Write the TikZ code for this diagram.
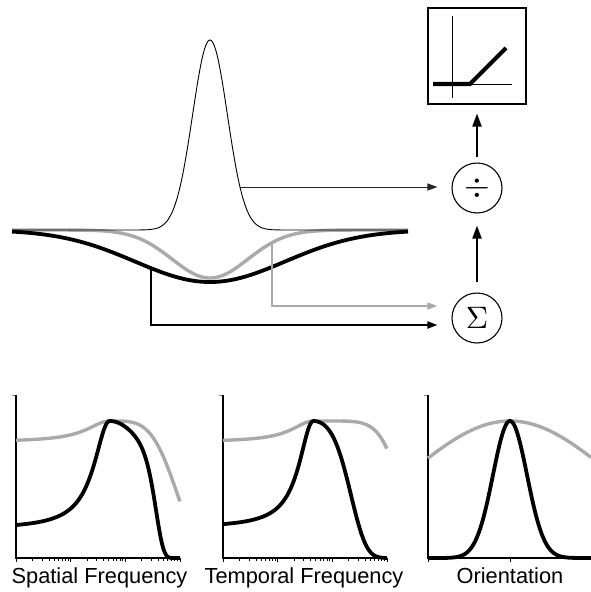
\documentclass[tikz,border=0pt]{standalone}
\usepackage{fontspec}
\usepackage{graphicx}
\setmainfont{Liberation Sans}
\usetikzlibrary{arrows.meta,calc}
\definecolor{cgray}{RGB}{170,170,170}
\begin{document}
\begin{tikzpicture}[x=1pt,y=-1pt,
  thickblack/.style={line width=3.8pt,black,line join=round},
  thickgray/.style={line width=3.4pt,cgray,line join=round},
  thincurve/.style={line width=0.9pt,black},
  opnode/.style={draw,circle,line width=1.1pt,minimum size=50pt,inner sep=0pt},
  conn/.style={line width=1pt,-{Triangle[length=10pt,width=7pt]}},
  vconn/.style={line width=2pt,-{Triangle[length=13pt,width=9pt]}},
  axisline/.style={line width=1.6pt,black},
  lbl/.style={font=\fontsize{21.8}{22}\selectfont,inner sep=0pt,anchor=base}]
\useasboundingbox (0,0) rectangle (591,592);

% ---- top curves
\draw[thickgray] plot[domain=12:408,samples=200,smooth] (\x,{230+48*exp(-min(((\x-210)/38)^2/2,40))});
\draw[thickblack] plot[domain=12:408,samples=200,smooth] (\x,{230+52*exp(-min(((\x-210)/75)^2/2,40))});
\draw[thincurve] plot[domain=12:408,samples=300,smooth] (\x,{230-190*exp(-min(((\x-210)/17.4)^2/2,40))});

\coordinate (pk) at (240,187);
\coordinate (gk) at (272,243);
\coordinate (bk) at (151,268);

% ---- operators
\node[opnode] (div) at (477,188) {\scalebox{3.3}{$\div$}};
\node[opnode] (sum) at (477,318) {\scalebox{3.1}{$\Sigma$}};
\node[draw,line width=1.1pt,minimum width=98pt,minimum height=96pt,inner sep=0pt] (box) at (477,56) {};

% box content
\draw[line width=0.9pt] (452,16) -- (452,98);
\draw[line width=0.9pt] (433,84) -- (512,84);
\draw[line width=4.2pt] (433,84) -- (470,84) -- (506,48);

% ---- connectors
\draw[conn,black!85] (pk) -- (pk -| div.west) [shorten >=14pt];
\draw[conn,cgray,line width=1.6pt] (gk) |- ($(sum.west)+(-14,-12)$);
\draw[conn,line width=2pt] (bk) |- ($(sum.west)+(-14,7)$);
\draw[vconn,shorten <=10pt,shorten >=12pt] (sum.north) -- (div.south);
\draw[vconn,shorten <=5pt,shorten >=9pt] (div.north) -- (box.south);

% ---- bottom panel 1 (x0=16)
\draw[line width=1pt,cgray!80!black] (12,395) -- (16,395);
\draw[axisline] (16,395) -- (16,558) -- (180,558);
\foreach \i in {0,1,2,3} \draw[line width=1pt] ({16+164/3*\i},558) -- ++(0,4);
\foreach \i in {0,1,2} \foreach \k in {2,...,9} \draw[line width=0.8pt] ({16+164/3*(\i+log10(\k))},558) -- ++(0,2.5);
\draw[thickgray] plot[domain=0:0.57,samples=60,smooth] ({16+164*\x},{558-137*(0.847+0.153/(1+((\x-0.57)/0.17)^2))})
  -- plot[domain=0.57:1,samples=60,smooth] ({16+164*\x},{558-137*exp(-min((abs(\x-0.57)/0.443)^4,40))});
\draw[thickblack] plot[domain=0:0.57,samples=60,smooth] ({16+164*\x},{558-137*(0.21+0.79/(1+((\x-0.57)/0.115)^2))})
  -- plot[domain=0.57:1,samples=80,smooth] ({16+164*\x},{558-137*exp(-min((abs(\x-0.57)/0.463)^2+(abs(\x-0.57)/0.298)^8,40))});
\node[lbl] (l1) at (99.5,583) {Spatial Frequency};

% ---- bottom panel 2 (x0=223)
\draw[line width=1pt,cgray!80!black] (219,395) -- (223,395);
\draw[axisline] (223,395) -- (223,558) -- (387,558);
\foreach \i in {0,1,2,3} \draw[line width=1pt] ({223+164/3*\i},558) -- ++(0,4);
\foreach \i in {0,1,2} \foreach \k in {2,...,9} \draw[line width=0.8pt] ({223+164/3*(\i+log10(\k))},558) -- ++(0,2.5);
\draw[thickgray] plot[domain=0:0.55,samples=60,smooth] ({223+164*\x},{558-137*(0.847+0.153/(1+((\x-0.55)/0.16)^2))})
  -- plot[domain=0.55:1,samples=60,smooth] ({223+164*\x},{558-137*exp(-min((abs(\x-0.55)/0.565)^6.5,40))});
\draw[thickblack] plot[domain=0:0.55,samples=60,smooth] ({223+164*\x},{558-137*(0.22+0.78/(1+((\x-0.55)/0.105)^2))})
  -- plot[domain=0.55:1,samples=80,smooth] ({223+164*\x},{558-137*exp(-min(6*(\x-0.55)^2+(abs(\x-0.55)/0.28)^4,40))});
\node[lbl] (l2) at (304,583) {Temporal Frequency};

% ---- bottom panel 3 (x0=428)
\draw[line width=1pt,cgray!80!black] (424,395) -- (428,395);
\draw[axisline] (428,395) -- (428,558) -- (591,558);
\draw[line width=1pt] (428,558) -- ++(0,4);
\draw[line width=1pt] (510,558) -- ++(0,4);
\draw[thickgray] plot[domain=428:591,samples=100,smooth] (\x,{558-137*exp(-((\x-510)/103)^2/2)});
\draw[thickblack] plot[domain=428:591,samples=200,smooth] (\x,{558-137*exp(-min(((\x-510)/17)^2/2,40))});
\node[lbl] (l3) at (510,583) {Orientation};
\end{tikzpicture}
\end{document}
